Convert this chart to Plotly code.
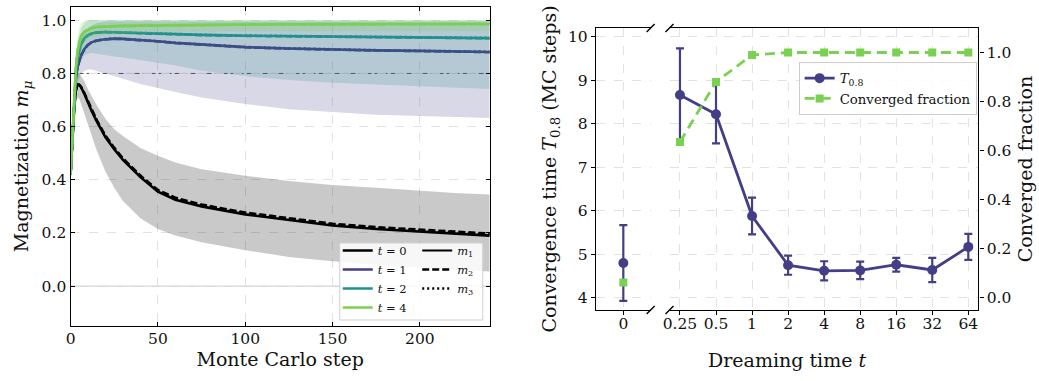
import plotly.graph_objects as go

# ---------------- Left panel data ----------------
steps = [0, 1, 2, 3, 4, 5, 6, 8, 10, 12, 15, 20, 25, 30, 40, 50, 60, 75, 100, 125, 150, 175, 200, 220, 240]

t0_m1 = [0.42, 0.55, 0.67, 0.735, 0.758, 0.757, 0.748, 0.722, 0.69, 0.66, 0.62, 0.56, 0.515, 0.475, 0.41, 0.355, 0.325, 0.30, 0.27, 0.25, 0.228, 0.215, 0.205, 0.198, 0.19]
t0_m2 = [0.42, 0.55, 0.67, 0.735, 0.758, 0.758, 0.750, 0.725, 0.695, 0.665, 0.625, 0.566, 0.521, 0.481, 0.416, 0.362, 0.333, 0.307, 0.277, 0.256, 0.235, 0.222, 0.212, 0.205, 0.198]
t0_m3 = [0.42, 0.55, 0.67, 0.735, 0.758, 0.757, 0.749, 0.723, 0.692, 0.662, 0.622, 0.563, 0.518, 0.478, 0.413, 0.359, 0.329, 0.304, 0.274, 0.253, 0.231, 0.218, 0.208, 0.201, 0.194]
t0_lo = [0.38, 0.50, 0.61, 0.68, 0.71, 0.705, 0.69, 0.65, 0.61, 0.57, 0.51, 0.43, 0.37, 0.32, 0.255, 0.215, 0.19, 0.165, 0.135, 0.11, 0.094, 0.08, 0.07, 0.062, 0.055]
t0_hi = [0.46, 0.60, 0.73, 0.79, 0.805, 0.80, 0.79, 0.77, 0.74, 0.715, 0.68, 0.63, 0.59, 0.565, 0.52, 0.49, 0.465, 0.44, 0.415, 0.395, 0.38, 0.37, 0.36, 0.35, 0.345]

t1_m1 = [0.42, 0.56, 0.69, 0.78, 0.825, 0.85, 0.868, 0.893, 0.908, 0.917, 0.924, 0.929, 0.931, 0.930, 0.926, 0.921, 0.915, 0.908, 0.899, 0.894, 0.890, 0.887, 0.885, 0.883, 0.881]
t1_m2 = [0.42, 0.56, 0.69, 0.78, 0.825, 0.85, 0.867, 0.892, 0.907, 0.916, 0.923, 0.928, 0.930, 0.929, 0.925, 0.920, 0.914, 0.907, 0.898, 0.893, 0.889, 0.886, 0.884, 0.882, 0.880]
t1_m3 = [0.42, 0.56, 0.69, 0.78, 0.825, 0.85, 0.869, 0.894, 0.909, 0.918, 0.925, 0.930, 0.932, 0.931, 0.927, 0.922, 0.916, 0.909, 0.900, 0.895, 0.891, 0.888, 0.886, 0.884, 0.882]
t1_lo = [0.38, 0.51, 0.63, 0.72, 0.765, 0.785, 0.80, 0.81, 0.815, 0.815, 0.81, 0.80, 0.79, 0.78, 0.76, 0.745, 0.73, 0.71, 0.685, 0.665, 0.655, 0.645, 0.64, 0.636, 0.632]
t1_hi = [0.46, 0.61, 0.75, 0.84, 0.885, 0.91, 0.93, 0.955, 0.97, 0.98, 0.99, 0.995, 0.995, 0.995, 0.995, 0.995, 0.995, 0.995, 0.995, 0.995, 0.995, 0.995, 0.995, 0.995, 0.995]

t2_m1 = [0.42, 0.565, 0.70, 0.80, 0.86, 0.89, 0.91, 0.933, 0.944, 0.95, 0.954, 0.956, 0.955, 0.953, 0.951, 0.949, 0.947, 0.945, 0.942, 0.940, 0.938, 0.936, 0.935, 0.934, 0.933]
t2_m2 = [0.42, 0.565, 0.70, 0.80, 0.86, 0.89, 0.909, 0.932, 0.943, 0.949, 0.953, 0.955, 0.954, 0.952, 0.950, 0.948, 0.946, 0.944, 0.941, 0.939, 0.937, 0.935, 0.934, 0.933, 0.932]
t2_m3 = [0.42, 0.565, 0.70, 0.80, 0.86, 0.89, 0.911, 0.934, 0.945, 0.951, 0.955, 0.957, 0.956, 0.954, 0.952, 0.950, 0.948, 0.946, 0.943, 0.941, 0.939, 0.937, 0.936, 0.935, 0.934]
t2_lo = [0.38, 0.52, 0.64, 0.74, 0.80, 0.835, 0.85, 0.868, 0.874, 0.877, 0.876, 0.87, 0.865, 0.86, 0.85, 0.84, 0.83, 0.81, 0.79, 0.775, 0.765, 0.758, 0.752, 0.748, 0.742]
t2_hi = [0.46, 0.61, 0.76, 0.86, 0.92, 0.95, 0.97, 0.99, 1.0, 1.0, 1.0, 1.0, 1.0, 1.0, 1.0, 1.0, 1.0, 1.0, 1.0, 1.0, 1.0, 1.0, 1.0, 1.0, 1.0]

t4_m1 = [0.42, 0.57, 0.71, 0.82, 0.885, 0.92, 0.94, 0.958, 0.966, 0.971, 0.975, 0.977, 0.978, 0.979, 0.980, 0.981, 0.982, 0.983, 0.984, 0.985, 0.985, 0.986, 0.986, 0.986, 0.986]
t4_m2 = [0.42, 0.57, 0.71, 0.82, 0.885, 0.92, 0.939, 0.957, 0.965, 0.970, 0.974, 0.976, 0.977, 0.978, 0.979, 0.980, 0.981, 0.982, 0.983, 0.984, 0.984, 0.985, 0.985, 0.985, 0.985]
t4_m3 = [0.42, 0.57, 0.71, 0.82, 0.885, 0.92, 0.941, 0.959, 0.967, 0.972, 0.976, 0.978, 0.979, 0.980, 0.981, 0.982, 0.983, 0.984, 0.985, 0.986, 0.986, 0.987, 0.987, 0.987, 0.987]
t4_lo = [0.38, 0.53, 0.66, 0.77, 0.84, 0.875, 0.895, 0.915, 0.928, 0.934, 0.94, 0.945, 0.947, 0.95, 0.952, 0.955, 0.956, 0.957, 0.958, 0.959, 0.959, 0.96, 0.96, 0.96, 0.96]
t4_hi = [0.46, 0.62, 0.77, 0.88, 0.94, 0.975, 0.99, 1.0, 1.0, 1.0, 1.0, 1.0, 1.0, 1.0, 1.0, 1.0, 1.0, 1.0, 1.0, 1.0, 1.0, 1.0, 1.0, 1.0, 1.0]

series_labels = ["0", "1", "2", "4"]

# ---------------- Right panel data ----------------
t0_point = [0]
T08_at0 = [4.80]
T08_err_at0 = [0.87]
conv_at0 = [0.062]

dream_t = [0.25, 0.5, 1, 2, 4, 8, 16, 32, 64]
dream_labels = ["0.25", "0.5", "1", "2", "4", "8", "16", "32", "64"]
T08 = [8.66, 8.22, 5.88, 4.75, 4.62, 4.63, 4.76, 4.64, 5.17]
T08_err = [1.07, 0.67, 0.42, 0.22, 0.22, 0.20, 0.16, 0.28, 0.30]
conv_frac = [0.635, 0.88, 0.99, 1.0, 1.0, 1.0, 1.0, 1.0, 1.0]

# ---------------- styling ----------------
W, H = 1039, 381
FONT = "DejaVu Serif"
TICK = 15.5
TITLE = 19
colors = ["#000000", "#433e85", "#21918c", "#7ad151"]
fills = ["rgba(0,0,0,0.21)", "rgba(67,62,133,0.2)", "rgba(33,145,140,0.2)", "rgba(122,209,81,0.2)"]
PURPLE = "#433e85"
GREEN = "#7ad151"
GRID = "#e2e2e2"


def px(x):
    return x / W


def py(y):
    return 1 - y / H


fig = go.Figure()

# legend-only entry for m1 (black solid)
fig.add_trace(go.Scatter(x=[None], y=[None], mode="lines", line=dict(color="black", width=2),
                         name="<i>m</i><sub>1</sub>", legend="legend2", showlegend=True, hoverinfo="skip"))

groups = [
    (t0_m1, t0_m2, t0_m3, t0_lo, t0_hi),
    (t1_m1, t1_m2, t1_m3, t1_lo, t1_hi),
    (t2_m1, t2_m2, t2_m3, t2_lo, t2_hi),
    (t4_m1, t4_m2, t4_m3, t4_lo, t4_hi),
]

for i, (m1, m2, m3, lo, hi) in enumerate(groups):
    fig.add_trace(go.Scatter(x=steps + steps[::-1], y=hi + lo[::-1], fill="toself",
                             fillcolor=fills[i], line=dict(width=0), mode="lines",
                             showlegend=False, hoverinfo="skip", xaxis="x", yaxis="y"))
    fig.add_trace(go.Scatter(x=steps, y=m1, mode="lines", line=dict(color=colors[i], width=2.6),
                             name="<i>t</i> = " + series_labels[i], legend="legend", showlegend=True,
                             xaxis="x", yaxis="y"))
    fig.add_trace(go.Scatter(x=steps, y=m2, mode="lines",
                             line=dict(color=colors[i], width=2.4, dash="7px,3px"),
                             name="<i>m</i><sub>2</sub>", legend="legend2", showlegend=(i == 0),
                             xaxis="x", yaxis="y"))
    fig.add_trace(go.Scatter(x=steps, y=m3, mode="lines",
                             line=dict(color=colors[i], width=2.4, dash="2px,3px"),
                             name="<i>m</i><sub>3</sub>", legend="legend2", showlegend=(i == 0),
                             xaxis="x", yaxis="y"))

# Right panel: t = 0 subplot
fig.add_trace(go.Scatter(x=t0_point, y=T08_at0, mode="markers",
                         marker=dict(color=PURPLE, size=10),
                         error_y=dict(type="data", array=T08_err_at0, color=PURPLE, thickness=2.2, width=4),
                         showlegend=False, xaxis="x2", yaxis="y2"))
fig.add_trace(go.Scatter(x=t0_point, y=conv_at0, mode="markers",
                         marker=dict(color=GREEN, size=8, symbol="square"),
                         showlegend=False, xaxis="x2", yaxis="y5"))

# Right panel: main subplot
fig.add_trace(go.Scatter(x=dream_t, y=T08, mode="lines+markers",
                         line=dict(color=PURPLE, width=2.8),
                         marker=dict(color=PURPLE, size=10),
                         error_y=dict(type="data", array=T08_err, color=PURPLE, thickness=2.2, width=4),
                         name="<i>T</i><sub>0.8</sub>", legend="legend3", showlegend=True,
                         xaxis="x3", yaxis="y3"))
fig.add_trace(go.Scatter(x=dream_t, y=conv_frac, mode="lines+markers",
                         line=dict(color=GREEN, width=2.8, dash="10px,6px"),
                         marker=dict(color=GREEN, size=8, symbol="square"),
                         name="Converged fraction", legend="legend3", showlegend=True,
                         xaxis="x3", yaxis="y4"))

axis_common = dict(showline=True, linecolor="black", linewidth=1.4, zeroline=False,
                   showgrid=True, gridcolor=GRID, griddash="dash", gridwidth=1,
                   tickfont=dict(size=TICK, color="#111"), ticklen=4, tickcolor="black")

left_dom_x = [px(64), px(486)]
left_dom_y = [py(326), py(7)]
right_dom_y = [py(310), py(28)]

fig.update_layout(
    width=W, height=H, autosize=False,
    margin=dict(l=0, r=0, t=0, b=0),
    paper_bgcolor="white", plot_bgcolor="white",
    font=dict(family=FONT, color="#111"),
    xaxis=dict(**axis_common, domain=left_dom_x, anchor="y", range=[0, 240],
               tickvals=[0, 50, 100, 150, 200], ticks="inside", mirror="allticks",
               ticklabelstandoff=-2,
               title=dict(text="Monte Carlo step", font=dict(size=TITLE), standoff=4)),
    yaxis=dict(**axis_common, domain=left_dom_y, anchor="x", range=[-0.15, 1.05],
               tickvals=[0, 0.2, 0.4, 0.6, 0.8, 1.0], tickformat=".1f", ticks="inside", mirror="allticks",
               title=dict(text="Magnetization <i>m</i><sub><i>μ</i></sub>", font=dict(size=TITLE), standoff=7)),
    xaxis2=dict(**axis_common, domain=[px(593), px(648)], anchor="y2", range=[-0.5, 0.5],
                tickvals=t0_point, ticktext=["0"], ticks="outside", mirror=True, ticklabelstandoff=-5),
    yaxis2=dict(**axis_common, domain=right_dom_y, anchor="x2", range=[3.72, 10.2],
                tickvals=[4, 5, 6, 7, 8, 9, 10], ticks="outside", mirror=False,
                title=dict(text="Convergence time <i>T</i><sub>0.8</sub> (MC steps)", font=dict(size=TITLE), standoff=6)),
    xaxis3=dict(**axis_common, domain=[px(667), px(978)], anchor="y3", type="log",
                range=[-0.6894, 1.8905], tickvals=dream_t, ticktext=dream_labels,
                ticks="outside", mirror=True, ticklabelstandoff=-5),
    yaxis3=dict(showline=False, zeroline=False, showgrid=True, gridcolor=GRID, griddash="dash",
                domain=right_dom_y, anchor="x3", range=[3.72, 10.2],
                tickvals=[4, 5, 6, 7, 8, 9, 10], showticklabels=False, ticks=""),
    yaxis4=dict(showline=True, linecolor="black", linewidth=1.4, zeroline=False, showgrid=False,
                anchor="x3", overlaying="y3", side="right", range=[-0.05, 1.1],
                tickvals=[0, 0.2, 0.4, 0.6, 0.8, 1.0], tickformat=".1f", ticks="outside",
                ticklen=4, tickcolor="black", tickfont=dict(size=TICK, color="#111"),
                title=dict(text="Converged fraction", font=dict(size=TITLE), standoff=8)),
    yaxis5=dict(anchor="x2", overlaying="y2", range=[-0.05, 1.1], visible=False),
    legend=dict(x=px(333), y=py(236), xanchor="left", yanchor="top", bgcolor="rgba(0,0,0,0)",
                font=dict(size=11.5, family=FONT), borderwidth=0, tracegroupgap=0),
    legend2=dict(x=px(413), y=py(236), xanchor="left", yanchor="top", bgcolor="rgba(0,0,0,0)",
                 font=dict(size=11.5, family=FONT), borderwidth=0, tracegroupgap=0),
    legend3=dict(x=px(797), y=py(62), xanchor="left", yanchor="top", bgcolor="rgba(255,255,255,0.85)",
                 bordercolor="#cccccc", borderwidth=1, font=dict(size=13.3, family=FONT)),
    showlegend=True,
)

shapes = []
# reference lines on left panel
shapes.append(dict(type="line", xref="x domain", x0=0, x1=1, yref="y", y0=0.8, y1=0.8,
                   line=dict(color="#555555", width=1, dash="5px,3px"), layer="below"))
shapes.append(dict(type="line", xref="x domain", x0=0, x1=1, yref="y", y0=0.0, y1=0.0,
                   line=dict(color="#c4c4c4", width=1), layer="below"))
# left legend background
shapes.append(dict(type="rect", xref="paper", yref="paper", x0=px(335), x1=px(479), y0=py(320), y1=py(243),
                   fillcolor="rgba(255,255,255,0.85)", line=dict(color="#d0d0d0", width=1), layer="above"))
# axis break marks
for bx in (648, 667):
    for by in (28, 310):
        shapes.append(dict(type="line", xref="paper", yref="paper",
                           x0=px(bx - 4), y0=py(by + 4), x1=px(bx + 4), y1=py(by - 4),
                           line=dict(color="black", width=1.4)))
fig.update_layout(shapes=shapes)

fig.add_annotation(text="Dreaming time <i>t</i>", xref="paper", yref="paper",
                   x=px(785), y=py(360), xanchor="center", yanchor="middle",
                   showarrow=False, font=dict(size=TITLE, family=FONT, color="#111"))

fig.write_html("out.html")
